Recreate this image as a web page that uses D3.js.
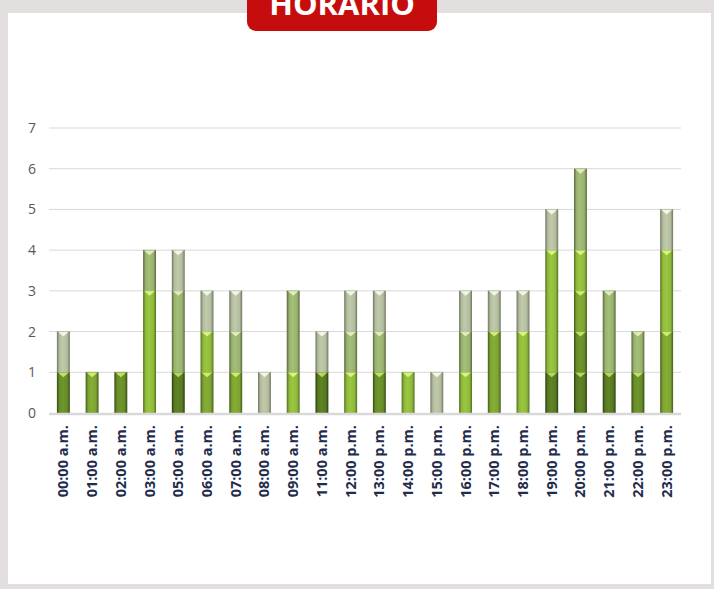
<!DOCTYPE html>
<html>
<head>
<meta charset="utf-8">
<script src="https://cdn.jsdelivr.net/npm/d3@7"></script>
<style>
  body { margin: 0; background: #e3dfde; }
  svg { display: block; font-family: "Open Sans", "DejaVu Sans", sans-serif; }
</style>
</head>
<body>
<svg id="chart"></svg>
<script>
// hour categories as printed on the x axis
const hours = ["00:00 a.m.", "01:00 a.m.", "02:00 a.m.", "03:00 a.m.", "05:00 a.m.", "06:00 a.m.",
  "07:00 a.m.", "08:00 a.m.", "09:00 a.m.", "11:00 a.m.", "12:00 p.m.", "13:00 p.m.",
  "14:00 p.m.", "15:00 p.m.", "16:00 p.m.", "17:00 p.m.", "18:00 p.m.", "19:00 p.m.",
  "20:00 p.m.", "21:00 p.m.", "22:00 p.m.", "23:00 p.m."];

// stacked series, bottom to top (darkest green first)
const serieA = [0,0,0,0,1,0,0,0,0,1,0,0,0,0,0,0,0,1,1,1,0,0];
const serieB = [1,0,1,0,0,0,0,0,0,0,0,1,0,0,0,0,0,0,1,0,1,0];
const serieC = [0,1,0,0,0,1,1,0,0,0,0,0,0,0,0,2,0,0,1,0,0,2];
const serieD = [0,0,0,3,0,1,0,0,1,0,1,0,1,0,1,0,2,3,1,0,0,2];
const serieE = [0,0,0,1,2,0,1,0,2,0,1,1,0,0,1,0,0,0,2,2,1,0];
const serieF = [1,0,0,0,1,1,1,1,0,1,1,1,0,1,1,1,1,1,0,0,0,1];

const yTicks = [0, 1, 2, 3, 4, 5, 6, 7];
const titulo = "HORARIO";

const seriesNames = ["A", "B", "C", "D", "E", "F"];
const seriesValues = [serieA, serieB, serieC, serieD, serieE, serieF];
// base colour, edge colour, chevron colour
const colors = {
  A: ["#587a22", "#2c3f0e", "#b4d858"],
  B: ["#678c29", "#354c12", "#c0e163"],
  C: ["#7da232", "#435e17", "#cdec70"],
  D: ["#8fb93c", "#51721d", "#d8f380"],
  E: ["#99b270", "#58693a", "#dfecbc"],
  F: ["#b3bc9f", "#6e785f", "#f2f6e6"]
};

const width = 714, height = 589;
const margin = { top: 128, right: 33, bottom: 176, left: 49 };

const svg = d3.select("#chart").attr("width", width).attr("height", height);

// background panel
svg.append("rect").attr("width", width).attr("height", height).attr("fill", "#e3dfde");
svg.append("rect").attr("x", 8).attr("y", 13).attr("width", 703).attr("height", 571).attr("fill", "#fff");

// title badge, cut by the top edge
svg.append("rect")
  .attr("x", 247).attr("y", -12).attr("width", 190).attr("height", 43)
  .attr("rx", 9).attr("fill", "#c60d0d");
svg.append("text")
  .attr("x", 342).attr("y", 15)
  .attr("text-anchor", "middle")
  .attr("fill", "#fff")
  .attr("font-weight", "bold")
  .attr("font-size", 31)
  .text(titulo);

const defs = svg.append("defs");
seriesNames.forEach(k => {
  const g = defs.append("linearGradient").attr("id", "grad" + k)
    .attr("x1", "0%").attr("x2", "100%").attr("y1", "0%").attr("y2", "0%");
  g.append("stop").attr("offset", "0%").attr("stop-color", colors[k][1]);
  g.append("stop").attr("offset", "20%").attr("stop-color", colors[k][0]);
  g.append("stop").attr("offset", "45%").attr("stop-color", d3.color(colors[k][0]).brighter(0.2));
  g.append("stop").attr("offset", "80%").attr("stop-color", colors[k][0]);
  g.append("stop").attr("offset", "100%").attr("stop-color", colors[k][1]);
});

const x = d3.scaleBand()
  .domain(hours)
  .range([margin.left, width - margin.right])
  .paddingInner(0.55)
  .paddingOuter(0.275);

const y = d3.scaleLinear()
  .domain([0, 7])
  .range([height - margin.bottom, margin.top]);

// gridlines
svg.append("g")
  .selectAll("line")
  .data(yTicks.slice(1))
  .join("line")
  .attr("x1", margin.left).attr("x2", width - margin.right)
  .attr("y1", d => y(d)).attr("y2", d => y(d))
  .attr("stroke", "#d9d9d9").attr("stroke-width", 1);

// y tick labels
svg.append("g")
  .selectAll("text")
  .data(yTicks)
  .join("text")
  .attr("x", 36).attr("y", d => y(d) + 5)
  .attr("text-anchor", "end")
  .attr("font-size", 14)
  .attr("fill", "#595959")
  .text(d => d);

// stacked bars
const rows = hours.map((h, i) => {
  const r = { hour: h };
  seriesNames.forEach((k, j) => r[k] = seriesValues[j][i]);
  return r;
});
const stack = d3.stack().keys(seriesNames)(rows);

const layers = svg.append("g")
  .selectAll("g")
  .data(stack)
  .join("g");

const segs = layers.selectAll("g")
  .data(d => d.filter(s => s[1] > s[0]).map(s => ({ key: d.key, y0: s[0], y1: s[1], hour: s.data.hour })))
  .join("g");

segs.append("rect")
  .attr("x", d => x(d.hour))
  .attr("y", d => y(d.y1))
  .attr("width", x.bandwidth())
  .attr("height", d => y(d.y0) - y(d.y1))
  .attr("fill", d => "url(#grad" + d.key + ")");

// bevel chevron at the top of each segment
segs.append("path")
  .attr("d", d => {
    const x0 = x(d.hour), x1 = x0 + x.bandwidth(), xc = x0 + x.bandwidth() / 2, yt = y(d.y1);
    const p = d3.path();
    p.moveTo(x0 + 1, yt);
    p.lineTo(x1 - 1, yt);
    p.lineTo(x1 - 3, yt + 2);
    p.lineTo(xc, yt + 5);
    p.lineTo(x0 + 3, yt + 2);
    p.closePath();
    return p.toString();
  })
  .attr("fill", d => colors[d.key][2]);

// thin dark line separating segments
segs.append("line")
  .attr("x1", d => x(d.hour)).attr("x2", d => x(d.hour) + x.bandwidth())
  .attr("y1", d => y(d.y1)).attr("y2", d => y(d.y1))
  .attr("stroke", d => colors[d.key][1]).attr("stroke-opacity", 0.5).attr("stroke-width", 0.6);

// baseline
svg.append("line")
  .attr("x1", margin.left).attr("x2", width - margin.right)
  .attr("y1", y(0) + 1).attr("y2", y(0) + 1)
  .attr("stroke", "#d9d9d9").attr("stroke-width", 2.5);

// x labels, rotated
svg.append("g")
  .selectAll("text")
  .data(hours)
  .join("text")
  .attr("transform", d => `translate(${x(d) + x.bandwidth() / 2 + 5},${y(0) + 12}) rotate(-90)`)
  .attr("text-anchor", "end")
  .attr("font-size", 14.5)
  .attr("font-weight", "bold")
  .attr("fill", "#1f2c4c")
  .text(d => d);
</script>
</body>
</html>
